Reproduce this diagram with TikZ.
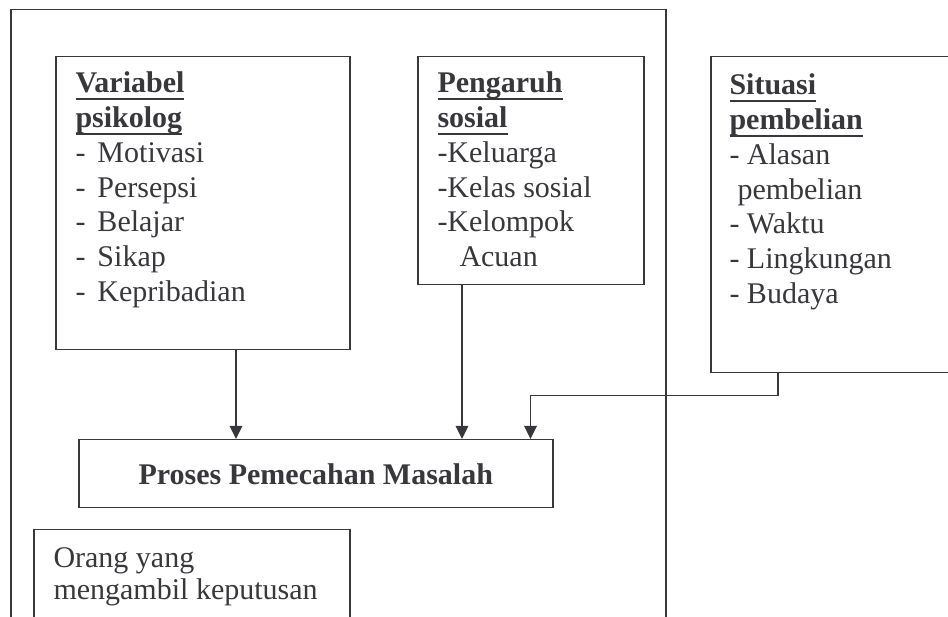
\documentclass[tikz,border=0pt]{standalone}
\usepackage{fontspec}
\setmainfont{Liberation Serif}
\usetikzlibrary{arrows.meta}

\definecolor{garis}{HTML}{38383C}
\newcommand{\judul}[1]{\setbox0\hbox{\textbf{#1}}\rlap{\rule[-2.9pt]{\wd0}{0.9pt}}\box0}
\newcommand{\butir}[1]{\makebox[8.8pt][l]{-}#1}

\tikzset{
  kotak/.style={draw=garis, line width=0.6pt, anchor=north west, inner sep=0pt,
    text=garis, font=\fontsize{12}{13.9}\selectfont},
  isi/.style={anchor=base west, inner sep=0pt, text=garis, font=\fontsize{12}{13.9}\selectfont},
  panah/.style={draw=garis, line width=0.6pt, -{Triangle[length=5.2pt,width=5pt]}}
}

\begin{document}
\begin{tikzpicture}[x=0.4pt, y=-0.4pt]
  \useasboundingbox (0,0) rectangle (948,617);

  % kotak-kotak
  \node[kotak, minimum width=262pt, minimum height=260pt] (luar) at (10,9) {};
  \node[kotak, minimum width=117.6pt, minimum height=117.2pt] (psikolog) at (55,56) {};
  \node[kotak, minimum width=90.4pt, minimum height=91.2pt] (sosial) at (417,56) {};
  \node[kotak, minimum width=104pt, minimum height=126.4pt] (situasi) at (710,56) {};
  \node[kotak, minimum width=189.6pt, minimum height=27.2pt] (proses) at (78,439)
    {\textbf{Proses Pemecahan Masalah}};
  \node[kotak, minimum width=126.4pt, minimum height=48pt] (orang) at (33,529) {};

  % isi kotak
  \node[isi] (psikologtxt) at (75,93) {\begin{tabular}[t]{@{}l@{}}
    \judul{Variabel}\\ \judul{psikolog}\\ \butir{Motivasi}\\ \butir{Persepsi}\\
    \butir{Belajar}\\ \butir{Sikap}\\ \butir{Kepribadian}\end{tabular}};
  \node[isi] (sosialtxt) at (437,93) {\begin{tabular}[t]{@{}l@{}}
    \judul{Pengaruh}\\ \judul{sosial}\\ -Keluarga\\ -Kelas sosial\\
    -Kelompok\\ \hspace*{8.8pt}Acuan\end{tabular}};
  \node[isi] (situasitxt) at (729,95) {\begin{tabular}[t]{@{}l@{}}
    \judul{Situasi}\\ \judul{pembelian}\\ - Alasan\\ \hspace*{3.2pt}pembelian\\
    - Waktu\\ - Lingkungan\\ - Budaya\end{tabular}};
  \node[isi] (orangtxt) at (53,568) {\def\arraystretch{0.9}\begin{tabular}[t]{@{}l@{}}
    Orang yang\\ mengambil keputusan\end{tabular}};

  % panah
  \draw[panah] (psikolog.south west) ++(181,0) coordinate (p1) -- (p1 |- proses.north);
  \draw[panah] (sosial.south west) ++(45,0) coordinate (p2) -- (p2 |- proses.north);
  \draw[panah] (situasi.south west) ++(68,0) -- ++(0,22) -| ([xshift=-9.2pt]proses.north east);
\end{tikzpicture}
\end{document}
